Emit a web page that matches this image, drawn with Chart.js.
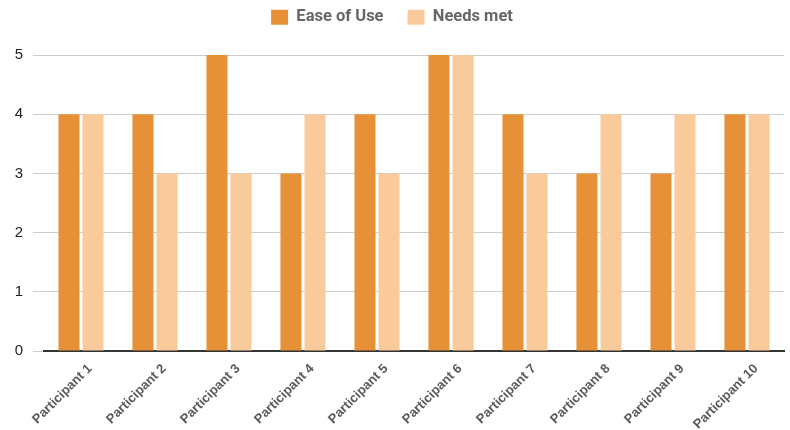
<!DOCTYPE html>
<html>
<head>
<meta charset="utf-8">
<script src="https://cdn.jsdelivr.net/npm/chart.js@4/dist/chart.umd.min.js"></script>
<style>
html,body{margin:0;padding:0;background:#fff;}
#wrap{width:790px;height:430px;position:relative;}
</style>
</head>
<body>
<div id="wrap"><canvas id="c" width="790" height="430"></canvas></div>
<script>
const categories = ["Participant 1","Participant 2","Participant 3","Participant 4","Participant 5","Participant 6","Participant 7","Participant 8","Participant 9","Participant 10"];
const easeOfUse = [4,4,5,3,4,5,4,3,3,4];
const needsMet = [4,3,3,4,3,5,3,4,4,4];
const yTicks = [0,1,2,3,4,5];

const legendHeight = {
  id: 'legendHeight',
  beforeInit(chart) {
    const lg = chart.legend;
    if (!lg) return;
    const orig = lg.fit;
    lg.fit = function() { orig.call(this); this.height = 70; };
  }
};

new Chart(document.getElementById('c'), {
  type: 'bar',
  data: {
    labels: categories,
    datasets: [
      {label: 'Ease of Use', data: easeOfUse, backgroundColor: '#E69138', borderWidth: 0},
      {label: 'Needs met', data: needsMet, backgroundColor: '#F9CB9C', borderWidth: 0}
    ]
  },
  plugins: [legendHeight],
  options: {
    responsive: false,
    animation: false,
    devicePixelRatio: 1,
    layout: {padding: {left: 0, right: 6, top: -15, bottom: 0}},
    datasets: {bar: {categoryPercentage: 0.65, barPercentage: 0.875}},
    plugins: {
      legend: {
        position: 'top',
        labels: {
          boxWidth: 17, boxHeight: 15, padding: 24,
          color: '#666',
          font: {family: 'Roboto', size: 16.5, weight: 'bold'}
        }
      },
      tooltip: {enabled: false}
    },
    scales: {
      x: {
        grid: {display: false, drawTicks: false},
        border: {color: '#333', width: 2},
        ticks: {
          minRotation: 45, maxRotation: 45, padding: 10, labelOffset: 9,
          color: '#5a5a5a',
          font: {family: '"Liberation Sans", Arial, sans-serif', size: 13, weight: 'bold'}
        },
        afterFit: s => { s.height = 79; }
      },
      y: {
        min: 0, max: 5,
        afterBuildTicks: s => { s.ticks = yTicks.map(v => ({value: v})); },
        grid: {color: '#cccccc', tickLength: 11, drawTicks: true},
        border: {display: false},
        ticks: {
          padding: 10,
          color: '#222',
          font: {family: '"Liberation Sans", Arial, sans-serif', size: 15}
        },
        afterFit: s => { s.width = 44; }
      }
    }
  }
});
</script>
</body>
</html>
